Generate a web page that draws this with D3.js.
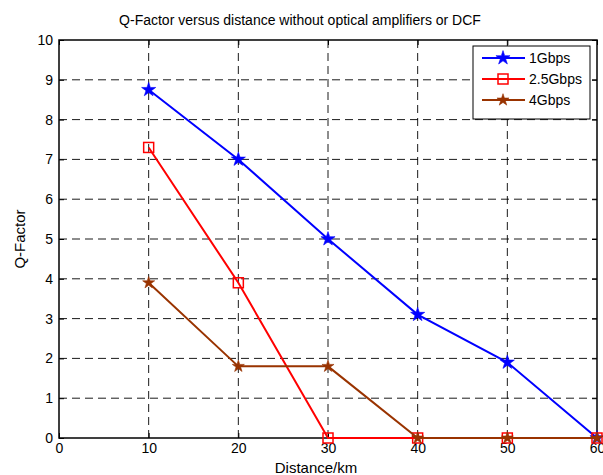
<!DOCTYPE html>
<html>
<head>
<meta charset="utf-8">
<script src="https://cdn.jsdelivr.net/npm/d3@7"></script>
<style>
  body { margin: 0; background: #fff; }
  text { font-family: "Liberation Sans", Arial, sans-serif; }
</style>
</head>
<body>
<svg id="chart" width="603" height="475"></svg>
<script>
    var distances = [10, 20, 30, 40, 50, 60];
    var q1G = [8.75, 7.0, 5.0, 3.1, 1.9, 0];
    var q25G = [7.3, 3.9, 0, 0, 0, 0];
    var q4G = [3.9, 1.8, 1.8, 0, 0, 0];
    var seriesNames = ["1Gbps", "2.5Gbps", "4Gbps"];
    var xTicks = [0, 10, 20, 30, 40, 50, 60];
    var yTicks = [0, 1, 2, 3, 4, 5, 6, 7, 8, 9, 10];

    var svg = d3.select("#chart"),
        margin = {top: 40, right: 6, bottom: 37, left: 59},
        width = svg.attr("width") - margin.left - margin.right,
        height = svg.attr("height") - margin.top - margin.bottom,
        g = svg.append("g").attr("transform", "translate(" + margin.left + "," + margin.top + ")");

    var x = d3.scaleLinear().domain([0, 60]).range([0, width]),
        y = d3.scaleLinear().domain([0, 10]).range([height, 0]);

    var series = [
        {name: seriesNames[0], values: q1G, color: "#0000ff", shape: "star", size: 62},
        {name: seriesNames[1], values: q25G, color: "#ff0000", shape: "square", size: 0},
        {name: seriesNames[2], values: q4G, color: "#993300", shape: "star", size: 45}
    ];

    // grid
    g.append("g").selectAll("line").data(xTicks.slice(1, -1)).enter().append("line")
        .attr("x1", function(d) { return x(d); }).attr("x2", function(d) { return x(d); })
        .attr("y1", 0).attr("y2", height)
        .attr("stroke", "#000").attr("stroke-width", 0.9).attr("stroke-dasharray", "8,5");
    g.append("g").selectAll("line").data(yTicks.slice(1, -1)).enter().append("line")
        .attr("y1", function(d) { return y(d); }).attr("y2", function(d) { return y(d); })
        .attr("x1", 0).attr("x2", width)
        .attr("stroke", "#000").attr("stroke-width", 0.9).attr("stroke-dasharray", "8,5");

    // axes (matlab style: ticks inward, all four sides)
    var ax = function(sel) {
        sel.selectAll(".domain").remove();
        sel.selectAll("line").attr("stroke", "#000");
        sel.selectAll("text").attr("fill", "#000").style("font-size", "14px");
    };
    g.append("g").attr("transform", "translate(0," + height + ")")
        .call(d3.axisBottom(x).tickValues(xTicks).tickSize(-5).tickPadding(5)).call(ax);
    g.append("g")
        .call(d3.axisLeft(y).tickValues(yTicks).tickSize(-5).tickPadding(6)).call(ax);
    g.append("g")
        .call(d3.axisTop(x).tickValues(xTicks).tickSize(-5).tickFormat("")).call(ax);
    g.append("g").attr("transform", "translate(" + width + ",0)")
        .call(d3.axisRight(y).tickValues(yTicks).tickSize(-5).tickFormat("")).call(ax);

    g.append("rect").attr("width", width).attr("height", height)
        .attr("fill", "none").attr("stroke", "#000").attr("stroke-width", 1.5);

    var line = d3.line()
        .x(function(d, i) { return x(distances[i]); })
        .y(function(d) { return y(d); });

    function marker(sel, s) {
        if (s.shape === "square") {
            sel.append("rect").attr("x", -5).attr("y", -5).attr("width", 10).attr("height", 10)
                .attr("fill", "none").attr("stroke", s.color).attr("stroke-width", 1.5);
        } else {
            sel.append("path").attr("d", d3.symbol().type(d3.symbolStar).size(s.size)())
                .attr("fill", s.color).attr("stroke", s.color).attr("stroke-width", 0.6);
        }
    }

    var plot = g.append("g");
    series.forEach(function(s) {
        plot.append("path").attr("d", line(s.values))
            .attr("fill", "none").attr("stroke", s.color).attr("stroke-width", 2);
        s.values.forEach(function(v, i) {
            var m = plot.append("g").attr("transform", "translate(" + x(distances[i]) + "," + y(v) + ")");
            marker(m, s);
        });
    });

    // legend
    var leg = g.append("g").attr("transform", "translate(" + (width - 124) + ",6)");
    leg.append("rect").attr("width", 117).attr("height", 73)
        .attr("fill", "#fff").attr("stroke", "#000").attr("stroke-width", 1);
    series.forEach(function(s, i) {
        var row = leg.append("g").attr("transform", "translate(0," + (12 + i * 21) + ")");
        row.append("line").attr("x1", 9).attr("x2", 52).attr("y1", 0).attr("y2", 0)
            .attr("stroke", s.color).attr("stroke-width", 2);
        var m = row.append("g").attr("transform", "translate(30,0)");
        marker(m, s);
        row.append("text").attr("x", 56).attr("y", 0).attr("dy", "0.35em")
            .style("font-size", "14px").text(s.name);
    });

    svg.append("text").attr("x", 300).attr("y", 25)
        .attr("text-anchor", "middle").style("font-size", "14px")
        .text("Q-Factor versus distance without optical amplifiers or DCF");
    svg.append("text").attr("x", 316).attr("y", 473)
        .attr("text-anchor", "middle").style("font-size", "15px").text("Distance/km");
    svg.append("text").attr("transform", "translate(25," + (margin.top + height / 2) + ") rotate(-90)")
        .attr("text-anchor", "middle").style("font-size", "15px").text("Q-Factor");
</script>
</body>
</html>
